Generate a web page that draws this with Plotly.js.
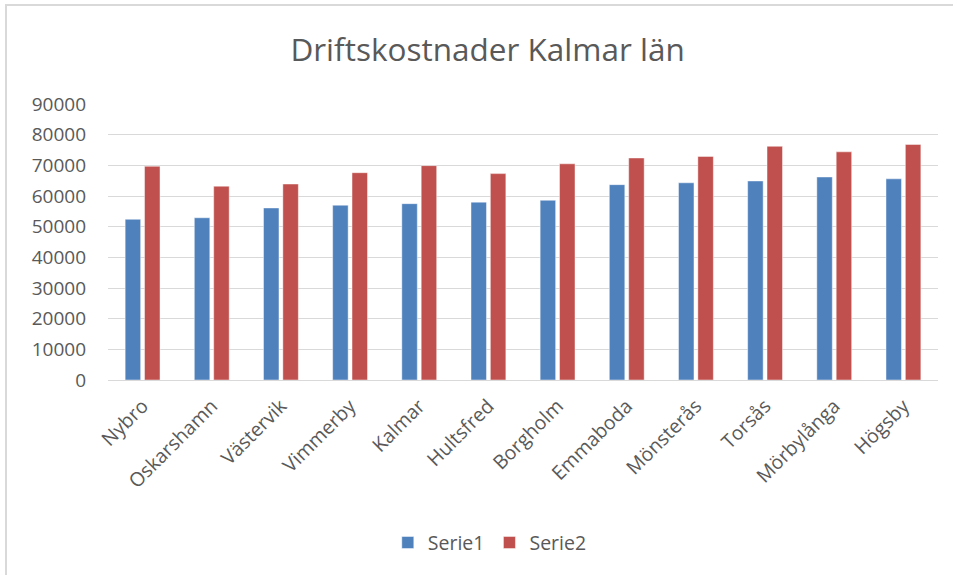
<!DOCTYPE html>
<html><head><meta charset="utf-8">
<script src="https://cdn.plot.ly/plotly-3.0.1.min.js"></script>
<style>body{margin:0;background:#fff;overflow:hidden}#frame{position:absolute;left:5px;top:4px;width:960px;height:600px;border-left:2px solid #d9d9d9;border-top:2px solid #d9d9d9}#chart{width:953px;height:575px;position:absolute;left:0;top:0}</style>
</head><body><div id="frame"></div><div id="chart"></div>
<script>
const categories = ["Nybro","Oskarshamn","Västervik","Vimmerby","Kalmar","Hultsfred","Borgholm","Emmaboda","Mönsterås","Torsås","Mörbylånga","Högsby"];
const serie1 = [52400,52900,56100,57000,57500,58000,58600,63700,64300,64900,66200,65600];
const serie2 = [69700,63200,63900,67600,69900,67300,70500,72400,72900,76200,74400,76800];
const yTicks = [0,10000,20000,30000,40000,50000,60000,70000,80000,90000];
const font = "'Open Sans', 'Noto Sans', sans-serif";
const traces = [
  {type:'bar', name:'Serie1', x:categories, y:serie1, marker:{color:'#4F81BD', line:{color:'rgba(255,255,255,0.45)', width:1}}},
  {type:'bar', name:'Serie2', x:categories, y:serie2, marker:{color:'#C0504D', line:{color:'rgba(255,255,255,0.45)', width:1}}}
];
const layout = {
  width:953, height:575,
  margin:{l:108, r:15, t:104, b:195},
  paper_bgcolor:'rgba(0,0,0,0)', plot_bgcolor:'rgba(0,0,0,0)',
  font:{family:font, color:'#595959', size:19.5},
  title:{text:'Driftskostnader Kalmar län', font:{size:31.5, color:'#595959', family:font}, x:0.5116, xanchor:'center', y:0.913, yanchor:'middle'},
  barmode:'group', bargap:0.44, bargroupgap:0.2,
  xaxis:{tickangle:-45, showgrid:false, showline:true, linecolor:'#d9d9d9', linewidth:1, ticks:'', tickfont:{size:19.5, color:'#595959'}, ticklabelstandoff:6, automargin:false},
  yaxis:{range:[0,90000], tickvals:yTicks, ticktext:yTicks.map(String), showgrid:true, gridcolor:'#d9d9d9', gridwidth:1, zeroline:false, showline:false, ticks:'', tickfont:{size:19, color:'#595959'}, ticklabelstandoff:21, automargin:false},
  showlegend:true,
  legend:{orientation:'h', x:0.46, xanchor:'center', y:-0.59, yanchor:'middle', font:{size:19.5, color:'#595959'}, itemwidth:30, traceorder:'normal'}
};
Plotly.newPlot('chart', traces, layout, {displayModeBar:false, staticPlot:true});
</script></body></html>
